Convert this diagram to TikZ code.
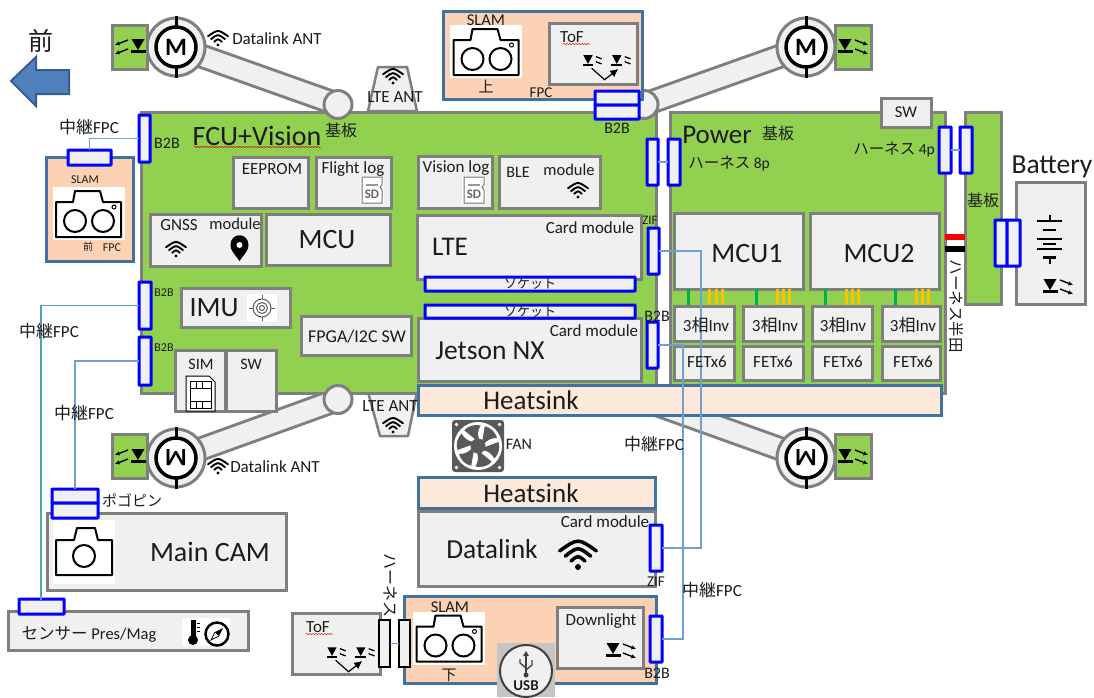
\documentclass[tikz,border=0pt]{standalone}
\usepackage{fontspec}
\setmainfont{Carlito}
\newfontfamily\jp{Noto Sans CJK JP}
\usetikzlibrary{arrows.meta,decorations.pathmorphing}
\definecolor{brd}{HTML}{7F7F7F}
\definecolor{pcb}{HTML}{92D050}
\definecolor{lgt}{HTML}{F0F0F0}
\definecolor{peach}{HTML}{FBD3B4}
\definecolor{hsk}{HTML}{FDE9D9}
\definecolor{steel}{HTML}{41719C}
\definecolor{conn}{HTML}{0000FF}
\definecolor{wirec}{HTML}{6F9FD5}
\definecolor{tealw}{HTML}{4BA3C0}
\definecolor{txc}{HTML}{1C1C1C}
\definecolor{arrf}{HTML}{4F81BD}
\definecolor{arrd}{HTML}{385D8A}
\definecolor{fang}{HTML}{595959}
\definecolor{traceg}{HTML}{00B050}
\definecolor{tracey}{HTML}{FFC000}
\newcommand\fs[1]{\fontsize{#1}{#1}\selectfont}
\tikzset{
  gbox/.style={draw=brd,fill=lgt,line width=3pt,inner sep=0pt,outer sep=0pt},
  board/.style={draw=brd,fill=pcb,line width=3pt,inner sep=0pt,outer sep=0pt},
  pbox/.style={draw=steel,fill=peach,line width=3pt,inner sep=0pt,outer sep=0pt},
  hbox/.style={draw=steel,fill=hsk,line width=3pt,inner sep=0pt,outer sep=0pt},
  cbox/.style={draw=conn,fill=lgt,line width=3pt,inner sep=0pt,outer sep=0pt,rounded corners=0.5pt},
  kbox/.style={draw=black,fill=lgt,line width=2.5pt,inner sep=0pt,outer sep=0pt},
  txt/.style={inner sep=0pt,outer sep=0pt,text=txc,align=center},
  wire/.style={draw=wirec,line width=1.1pt},
  twire/.style={draw=tealw,line width=1.1pt},
  armo/.style={draw=brd,line width=25pt},
  armi/.style={draw=lgt,line width=19pt},
  hub/.style={circle,draw=brd,fill=lgt,line width=3pt,minimum size=28pt,inner sep=0pt,outer sep=0pt},
  squig/.style={draw=red!80!black,line width=0.5pt,decorate,decoration={snake,amplitude=0.5pt,segment length=3pt}},
  icon/.style={line width=2pt,draw=black},
}
\newcounter{tn}
\newcommand\bx[6][gbox]{\node[#1,anchor=north west,minimum width={(#5-#3)*1pt},minimum height={(#6-#4)*1pt}] (#2) at (#3,#4) {};}
\newcommand\tx[4][]{\stepcounter{tn}\node[txt,#1] (t\thetn) at (#2,#3) {#4};}
% wifi: dot centre x,y ; scale
\newcommand\wifi[3]{\begin{scope}[shift={(#1,#2)},scale=#3]
  \fill[black] (0,0) circle (1.7);
  \draw[black,line width={#3*2pt},line cap=round] (-4,-3.4) .. controls (0,-6.8) .. (4,-3.4);
  \draw[black,line width={#3*2pt},line cap=round] (-7.3,-6.2) .. controls (0,-11.8) .. (7.3,-6.2);
  \draw[black,line width={#3*2pt},line cap=round] (-10.5,-9.2) .. controls (0,-16.6) .. (10.5,-9.2);
\end{scope}}
% led: centre, direction of the arrows (1 right, -1 left)
\newcommand\ledicon[3]{\begin{scope}[shift={(#1,#2)},xscale=#3]
  \fill[black] (-6.5,-7) -- (6.5,-7) -- (0,4) -- cycle;
  \fill[black] (-7.5,4) rectangle (7.5,7);
  \draw[-{Latex[length=4.5pt,width=4.5pt]},line width=1.4pt,black] (10,-6) -- (23,-1);
  \draw[-{Latex[length=4.5pt,width=4.5pt]},line width=1.4pt,black] (10,3) -- (23,8);
\end{scope}}
\newcommand\tofpair[2]{\begin{scope}[shift={(#1,#2)},scale=0.72]
  \fill[black] (-6.5,-8) -- (6.5,-8) -- (0,4) -- cycle;  \fill[black] (-7.5,4) rectangle (7.5,7.5);
  \fill[black] (33.5,-8) -- (46.5,-8) -- (40,4) -- cycle;  \fill[black] (32.5,4) rectangle (47.5,7.5);
  \draw[line width=1.3pt,black] (11,-6) -- (19,-3); \draw[line width=1.3pt,black] (11,1) -- (19,4);
  \draw[line width=1.3pt,black] (51,-6) -- (59,-3); \draw[line width=1.3pt,black] (51,1) -- (59,4);
  \draw[-{Latex[length=8pt,width=8pt]},line width=1.2pt,black] (5,10) -- (23,26) -- (42,11);
\end{scope}}
\newcommand\slamcam[2]{\begin{scope}[shift={(#1,#2)}]
  \fill[white] (-36,-26.5) rectangle (36,26.5);
  \draw[icon,line join=round] (-32.5,-11.5) -- (-15.5,-11.5) -- (-13.5,-22.5) -- (11.5,-22.5) -- (14.5,-11.5) -- (32.5,-11.5) -- (32.5,23.5) -- (-32.5,23.5) -- cycle;
  \draw[icon] (-13.5,7.5) circle (11);
  \draw[icon] (14.5,7.5) circle (11);
  \draw[line width=1pt,black] (25.5,-6.5) circle (2);
\end{scope}}
\newcommand\sdcard[2]{\begin{scope}[shift={(#1,#2)}]
  \fill[white] (-12,-14) rectangle (12,14);
  \draw[line width=1pt,draw=black!55] (-10,-13) -- (10,-13) -- (10,-5) -- (8,-3) -- (10,0) -- (10,13) -- (-10,13) -- cycle;
  \node[txt] (sd#1) at (0,4) {\fs{13}\bfseries\textcolor{black!60}{SD}};
  \fill[black!40] (-6,-6) rectangle (6,-4.5);
\end{scope}}
% motor: name,x,y,rot
\newcommand\motor[4]{
  \node[circle,draw=brd,fill=lgt,line width=3pt,minimum size=58pt,inner sep=0pt,outer sep=0pt] (#1) at (#2,#3) {};
  \node[circle,draw=black,fill=white,line width=3.5pt,minimum size=40pt,inner sep=0pt,outer sep=0pt] (#1i) at (#2,#3) {};
  \draw[black,line width=3pt] (#1i.north) -- ++(0,-11);
  \draw[black,line width=3pt] (#1i.south) -- ++(0,11);
  \node[txt,rotate=#4,text=black] (#1m) at (#2,#3) {\fs{25}\bfseries M};
}
\begin{document}
\begin{tikzpicture}[x=1pt,y=-1pt]
\useasboundingbox (0,0) rectangle (1094,697);
\fill[white] (0,0) rectangle (1094,697);
% arrow
\tx{41}{41}{\jp\fs{25}前}
\draw[draw=arrd,fill=arrf,line width=2pt] (11,81) -- (36,57) -- (36,70) -- (69,70) -- (69,94) -- (36,94) -- (36,106) -- cycle;
% arms
\coordinate (hubTL) at (338,104.5);\coordinate (hubBL) at (338,399.5);
\coordinate (hubTR) at (644,104.5);\coordinate (hubBR) at (644,400);
\coordinate (mTL) at (176,47);\coordinate (mTR) at (806,47);\coordinate (mBL) at (176,458);\coordinate (mBR) at (806,458);
\foreach \a/\b in {hubTL/mTL,hubBL/mBL,hubTR/mTR,hubBR/mBR}{\draw[armo] (\a)--(\b);\draw[armi] (\a)--(\b);}
% antennas
\draw[draw=brd,fill=lgt,line width=2.5pt,line join=round] (368,111) -- (378,67) -- (407,67) -- (417,111) -- cycle;
\draw[draw=brd,fill=lgt,line width=2.5pt,line join=round] (368,392) -- (380,436) -- (408,436) -- (417,392) -- cycle;
% boards
\bx[board]{fcu}{141}{112}{656}{393}
\bx[board]{pwr}{670}{112}{945}{393}
\bx[board]{sub}{965}{112}{1001}{304}
\bx{sw3}{881}{98}{931}{127}
\bx{batt}{1016}{182}{1085}{304}
% motors
\motor{m1}{176}{47}{0}
\motor{m2}{806}{47}{0}
\motor{m3}{176}{458}{180}
\motor{m4}{806}{458}{180}
\bx[board]{g1}{112}{25}{147}{69}
\bx[board]{g2}{835}{25}{871}{69}
\bx[board]{g3}{112}{434}{147}{478}
\bx[board]{g4}{835}{434}{871}{478}
\ledicon{138}{46}{-1}
\ledicon{845}{46}{1}
\ledicon{138}{456}{-1}
\ledicon{845}{456}{1}
\node[hub] (h1) at (hubTL) {};
\node[hub] (h2) at (hubBL) {};
\node[hub] (h3) at (hubTR) {};
% inner FCU boxes
\bx{eeprom}{233}{157}{308}{208}
\bx{flog}{316}{157}{391}{208}
\bx{vlog}{418}{156}{492}{208}
\bx{ble}{499}{156}{600}{208}
\bx{gnss}{150}{214}{261}{266}
\bx{mcu}{266}{214}{390}{265}
\bx{lte}{417}{215}{641}{279}
\bx{imu}{181}{288}{290}{327}
\bx{fpga}{301}{316}{411}{355}
\bx{sim}{175}{350}{225}{411}
\bx{sw1}{226}{350}{276}{411}
\bx{jet}{418}{318}{641}{381}
\bx[cbox]{sock1}{425}{277}{635}{291}
\bx[cbox]{sock2}{425}{305}{635}{318}
% Power internals
\bx{mcu1}{674}{213}{803}{289}
\bx{mcu2}{810}{213}{939}{289}
\foreach \x in {688,756,825,895}{\draw[traceg,line width=3pt] (\x,289)--(\x,306);}
\foreach \x in {709,716,722,777,783,789,846,852,858,916,922,928}{\draw[tracey,line width=3pt] (\x,289)--(\x,306);}
\foreach \n/\a/\b in {a/674/734,b/743/803,c/812/872,d/882/940}{
  \bx{inv\n}{\a}{306}{\b}{341}
  \bx{fet\n}{\a}{346}{\b}{380}
}
% heatsinks etc
\bx[hbox]{hs1}{418}{385}{941}{415}
\bx[hbox]{hs2}{418}{477}{655}{508}
\bx{dlk}{418}{511}{655}{586}
\bx[pbox]{slamF}{46}{157}{133}{261}
\bx[pbox]{slamT}{443}{11}{642}{99}
\bx{tofT}{549}{23}{637}{84}
\slamcam{88.5}{213.5}
\slamcam{486}{51.5}
\bx[pbox]{slamB}{404}{596}{656}{683}
\bx{down}{557}{607}{643}{668}
\slamcam{449}{638}
\bx{cam}{47}{513}{286}{590}
\bx{sens}{8}{611}{248}{650}
\bx{tofB}{292}{613}{380}{674}
% USB
\fill[brd!45!white] (497,643) rectangle (555,697);
\node[circle,draw=black!75,fill=lgt,line width=2pt,minimum size=52pt,inner sep=0pt] (usb) at (526,671) {};
\tx{526}{686}{\fs{15}\bfseries USB}
\draw[black!75,line width=1.6pt] (526,653)--(526,673);
\fill[black!75] (523,656)--(526,651)--(529,656)--cycle;
\draw[black!75,line width=1.3pt] (526,668)--(520,663)--(520,659);
\draw[black!75,line width=1.3pt] (526,670)--(532,665)--(532,660);
\fill[black!75] (526,675) circle (2.5);
% connectors
\bx[cbox]{cB1}{139}{115}{150}{162}
\bx[cbox]{cS1}{68}{150}{111}{165}
\bx[cbox]{cB2}{139}{282}{151}{329}
\bx[cbox]{cB3}{139}{337}{151}{385}
\bx[cbox]{cP1}{52}{489}{98}{503}
\bx[cbox]{cP2}{52}{503}{98}{518}
\bx[cbox]{cSe}{19}{599}{64}{614}
\bx[cbox]{cT1}{595}{91}{639}{105}
\bx[cbox]{cT2}{595}{105}{639}{119}
\bx[cbox]{c8a}{647}{139}{658}{185}
\bx[cbox]{c8b}{668}{139}{680}{185}
\bx[cbox]{c4a}{939}{127}{951}{173}
\bx[cbox]{c4b}{960}{127}{972}{173}
\bx[cbox]{cBa}{995}{220}{1007}{266}
\bx[cbox]{cBb}{1007}{220}{1020}{266}
\bx[cbox]{zifL}{648}{228}{659}{274}
\bx[cbox]{b2bJ}{647}{322}{658}{368}
\bx[cbox]{zifD}{650}{525}{662}{571}
\bx[cbox]{b2bD}{650}{616}{662}{662}
\bx[kbox]{hA}{379}{620}{390}{667}
\bx[kbox]{hB}{399}{620}{410}{667}
% solder wires
\fill[red] (945,234) rectangle (965,240);
\fill[black] (945,246) rectangle (965,252);
% wires
\draw[wire] (cB1.west) -| (cS1.north);
\draw[twire] (cB2.west) -- ++(-98,0) |- (cSe.north);
\draw[wire] (cB3.west) -| (cP1.north);
\draw[wire] (zifL.east) -- ++(42,0) |- (zifD.east);
\draw[wire] (b2bJ.east) -- ++(25,0) |- (b2bD.east);
\draw[wire] (c8a.east) -- (c8b.west);
\draw[wire] (c4a.east) -- (c4b.west);
\draw[wire] (hA.east) -- (hB.west);
% Texts
\tx{257}{136}{\fs{28}FCU+Vision}
\draw[squig] (194,147)--(321,147);
\tx{341}{130}{\jp\fs{16}基板}
\tx{89}{127}{\fs{17}{\jp 中継}FPC}
\tx{167}{143}{\fs{16}B2B}
\tx{85}{180}{\fs{12}SLAM}
\tx{88}{247}{\jp\fs{10}前}
\tx{112}{248}{\fs{12}FPC}
\tx{272}{169}{\fs{17}EEPROM}
\tx{353}{169}{\fs{17}Flight log}
\tx{456}{168}{\fs{17}Vision log}
\sdcard{372}{190}
\sdcard{474}{190}
\tx{518}{172}{\fs{16}BLE}
\tx{569}{170}{\fs{16.5}module}
\wifi{578}{197}{0.95}
\tx{179}{225}{\fs{17}GNSS}
\tx{235}{224}{\fs{16.5}module}
\wifi{176}{256}{0.95}
\fill[black] (239.5,261) .. controls (233,252) and (230.5,250) .. (230.5,245) .. controls (230.5,232) and (248.5,232) .. (248.5,245) .. controls (248.5,250) and (246,252) .. cycle;
\fill[white] (239.5,245) circle (3);
\tx{327}{240}{\fs{28}MCU}
\tx{450}{247}{\fs{27}LTE}
\tx{590}{228}{\fs{17}Card module}
\tx{530}{284}{\jp\fs{13}ソケット}
\tx{530}{312}{\jp\fs{13}ソケット}
\tx{594}{331}{\fs{17}Card module}
\tx{490}{351}{\fs{27.5}Jetson NX}
\tx{531}{400}{\fs{27}Heatsink}
\tx{531}{493}{\fs{27}Heatsink}
\tx{492}{549}{\fs{27.5}Datalink}
\tx{605}{522}{\fs{17}Card module}
\wifi{578}{567}{1.75}
\tx{656}{582}{\fs{15}ZIF}
\tx{657}{673}{\fs{16}B2B}
\tx{657}{316}{\fs{16}B2B}
\tx{650}{220}{\fs{13}ZIF}
\tx{617}{128}{\fs{16}B2B}
\tx{712}{590}{\fs{17}{\jp 中継}FPC}
\tx{654}{444}{\fs{17}{\jp 中継}FPC}
\tx{519}{444}{\fs{16}FAN}
\tx{49}{331}{\fs{17}{\jp 中継}FPC}
\tx{84}{413}{\fs{17}{\jp 中継}FPC}
\tx{164}{293}{\fs{12}B2B}
\tx{164}{348}{\fs{12}B2B}
\tx{132}{500}{\jp\fs{15}ポゴピン}
\tx{214}{308}{\fs{28}IMU}
\fill[white] (247,294) rectangle (277,322);
\draw[brd!70!black,line width=1pt] (262,308) circle (9) (262,308) circle (5.5) (262,308) circle (2.5);
\draw[brd!70!black,line width=1pt] (262,295)--(262,299) (262,317)--(262,321) (249,308)--(253,308) (271,308)--(275,308);
\tx{357}{337}{\fs{18}FPGA/I2C SW}
\tx{201}{364}{\fs{16}SIM}
\tx{251}{364}{\fs{16}SW}
\draw[black,line width=1pt,fill=white] (186,376) -- (209,376) -- (215,382) -- (215,411) -- (186,411) -- cycle;
\draw[black,line width=1pt] (190,381) rectangle (211,408) (190,388)--(211,388) (190,401)--(211,401) (196,381)--(196,388) (202,381)--(202,388) (196,401)--(196,408) (202,401)--(202,408);
\wifi{218}{45}{0.95}
\tx{277}{39}{\fs{17}Datalink ANT}
\wifi{218}{473}{0.95}
\tx{275}{467}{\fs{17}Datalink ANT}
\wifi{393}{83}{0.95}
\wifi{393}{432}{0.95}
\tx{395}{97}{\fs{17}LTE ANT}
\tx{390}{406}{\fs{17}LTE ANT}
% SLAM top
\tx{486}{20}{\fs{16.5}SLAM}
\tx{486}{87}{\jp\fs{15}上}
\tx{541}{93}{\fs{15}FPC}
\tx{572}{37}{\fs{17}ToF}
\draw[squig] (563,44)--(590,44);
\tofpair{588}{61}
% Power
\tx{717}{135}{\fs{27}Power}
\tx{778}{133}{\jp\fs{16}基板}
\tx{729}{164}{\fs{15.5}{\jp ハーネス} 8p}
\tx{894}{150}{\fs{15.5}{\jp ハーネス} 4p}
\tx{906}{112}{\fs{16.5}SW}
\tx{983}{200}{\jp\fs{16}基板}
\tx{1052}{167}{\fs{27.5}Battery}
\tx[rotate=-90]{956}{306}{\jp\fs{15.5}ハーネス半田}
\tx{747}{254}{\fs{28}MCU1}
\tx{879}{254}{\fs{28}MCU2}
\foreach \x/\y in {706/707,775/773,843/843,913/913}{
 \tx{\x}{325}{\fs{17}3{\jp 相}Inv}
 \tx{\y}{362}{\fs{17}FETx6}
}
% battery symbol
\draw[black,line width=2pt] (1050,215)--(1050,220.5);
\draw[black,line width=1.5pt] (1037,221)--(1062,221);
\draw[black,line width=1.5pt] (1043,230)--(1056,230);
\draw[black,line width=1.5pt] (1037,239)--(1062,239);
\draw[black,line width=1.5pt] (1043,244)--(1056,244);
\draw[black,line width=1.5pt] (1037,249)--(1062,249);
\draw[black,line width=3pt] (1043,257)--(1056,257);
\draw[black,line width=2pt] (1050,257)--(1050,264);
\ledicon{1050}{286}{1}
% Fan
\fill[fang,rounded corners=3pt] (452,420) rectangle (504,472);
\fill[white] (478,446) circle (24);
\foreach \cx/\cy in {456.5/424.5,499.5/424.5,456.5/467.5,499.5/467.5}{\fill[white] (\cx,\cy) circle (1.8);}
\foreach \a in {0,60,120,180,240,300}{
  \begin{scope}[shift={(478,446)},rotate=\a]
    \fill[fang] (7,1) -- (20.5,-4) .. controls (22.5,2) and (20.5,8) .. (16.5,12.5) .. controls (14,8) and (10,5) .. (6,4.5) -- cycle;
  \end{scope}
}
\fill[fang] (478,446) circle (7.5);
% Downlight, main cam, sensors
\tx{601}{621}{\fs{17}Downlight}
\ledicon{613}{650}{1}
\tx{450}{607}{\fs{16.5}SLAM}
\tx{449}{675}{\jp\fs{15}下}
\tx[rotate=-90]{391}{585}{\jp\fs{16}ハーネス}
\tx{318}{627}{\fs{17}ToF}
\draw[squig] (306,634)--(333,634);
\tofpair{332}{653}
\fill[white] (53,520) rectangle (115,584);
\draw[icon,line join=round] (56,540) -- (74,540) -- (77,528) -- (95,528) -- (98,540) -- (112,540) -- (112,575) -- (56,575) -- cycle;
\draw[icon] (84,556) circle (11);
\tx{210}{552}{\fs{28}Main CAM}
\tx{89}{634}{\fs{16.5}{\jp センサー} Pres/Mag}
\fill[white] (182,618) rectangle (230,646);
\fill[black] (193,640) circle (5);
\fill[black] (190.5,620) rectangle (195.5,638);
\draw[black,line width=.7pt] (197,623)--(200,623) (197,627)--(200,627) (197,631)--(200,631);
\draw[black,line width=2.5pt] (217,634) circle (11.5);
\fill[black] (223,628) -- (219,636) -- (215,632) -- cycle;
\draw[black,line width=.8pt] (215,632) -- (211,640) -- (219,636);
\end{tikzpicture}
\end{document}
